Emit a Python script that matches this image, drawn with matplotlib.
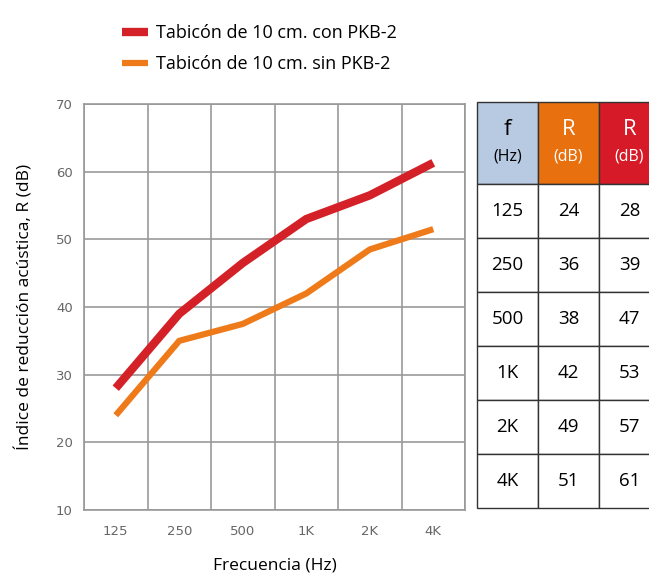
import numpy as np
import matplotlib
matplotlib.use("Agg")
from matplotlib import pyplot as plt
from matplotlib.patches import Rectangle

plt.rcParams['font.family'] = ['Open Sans', 'DejaVu Sans']

# data
freqs = ['125', '250', '500', '1K', '2K', '4K']
r_con = [28, 39, 46.5, 53, 56.5, 61.3]   # line
r_sin = [24, 35, 37.5, 42, 48.5, 51.5]
tab_sin = [24, 36, 38, 42, 49, 51]       # table values
tab_con = [28, 39, 47, 53, 57, 61]
label_con = 'Tabicón de 10 cm. con PKB-2'
label_sin = 'Tabicón de 10 cm. sin PKB-2'

red = '#d42128'
orange = '#ee7a1a'
W, H = 649, 576
fig = plt.figure(figsize=(W/100, H/100), dpi=100)

# line chart
ax = fig.add_axes([84/W, 1-510/H, (465-84)/W, (510-104)/H])
x = np.arange(len(freqs))
ax.plot(x, r_con, color=red, lw=6, solid_joinstyle='round', solid_capstyle='butt', label=label_con, zorder=3)
ax.plot(x, r_sin, color=orange, lw=4.5, solid_joinstyle='round', solid_capstyle='butt', label=label_sin, zorder=3)
ax.set_xlim(-0.5, len(freqs)-0.5)
ax.set_ylim(10, 70)
ax.set_yticks(range(10, 71, 10))
ax.set_xticks(x)
ax.set_xticklabels(freqs)
ax.set_xticks(np.arange(-0.5, len(freqs), 1), minor=True)
ax.grid(False)
ax.grid(True, which='minor', axis='x', color='#999999', lw=1.2)
ax.grid(True, which='major', axis='y', color='#999999', lw=1.2)
ax.tick_params(which='both', length=0)
ax.tick_params(axis='both', labelsize=9.5, labelcolor='#666666')
ax.tick_params(axis='x', pad=11)
ax.tick_params(axis='y', pad=8)
for lab in ax.get_xticklabels() + ax.get_yticklabels():
    lab.set_family('DejaVu Sans')
for s in ax.spines.values():
    s.set_color('#999999')
    s.set_linewidth(1.2)
ax.set_xlabel('Frecuencia (Hz)', fontsize=12.5, labelpad=14)
ax.set_ylabel('Índice de reducción acústica, R (dB)', fontsize=12.5, labelpad=16)

fig.legend(loc='upper left', bbox_to_anchor=(106/W, 1-8/H), frameon=False,
           fontsize=13, handlelength=1.4, handletextpad=0.45, labelspacing=0.7)

# table
tx = fig.add_axes([477/W, 1-508/H, 183/W, (508-102)/H])
tx.set_xlim(0, 3)
tx.set_ylim(0, 7.52)
tx.axis('off')
hdr_y = 6.0
hdr_h = 1.52
hdr_cols = ['#b8c9e2', '#e8700f', '#d71a28']
hdr_main = ['f', 'R', 'R']
hdr_sub = ['(Hz)', '(dB)', '(dB)']
hdr_txt = ['black', 'white', 'white']
for j in range(3):
    tx.add_patch(Rectangle((j, hdr_y), 1, hdr_h, facecolor=hdr_cols[j], edgecolor='#333333', lw=1, clip_on=False))
    tx.text(j+0.5, hdr_y+hdr_h*0.66, hdr_main[j], ha='center', va='center', fontsize=16, color=hdr_txt[j])
    tx.text(j+0.5, hdr_y+hdr_h*0.33, hdr_sub[j], ha='center', va='center', fontsize=11.5, color=hdr_txt[j])
for i, (f, a, b) in enumerate(zip(freqs, tab_sin, tab_con)):
    y0 = hdr_y - (i+1)
    for j, val in enumerate([f, a, b]):
        tx.add_patch(Rectangle((j, y0), 1, 1, facecolor='white', edgecolor='#333333', lw=1, clip_on=False))
        tx.text(j+0.5, y0+0.5, str(val), ha='center', va='center', fontsize=13.5)

fig.savefig('out.png', dpi=100)
